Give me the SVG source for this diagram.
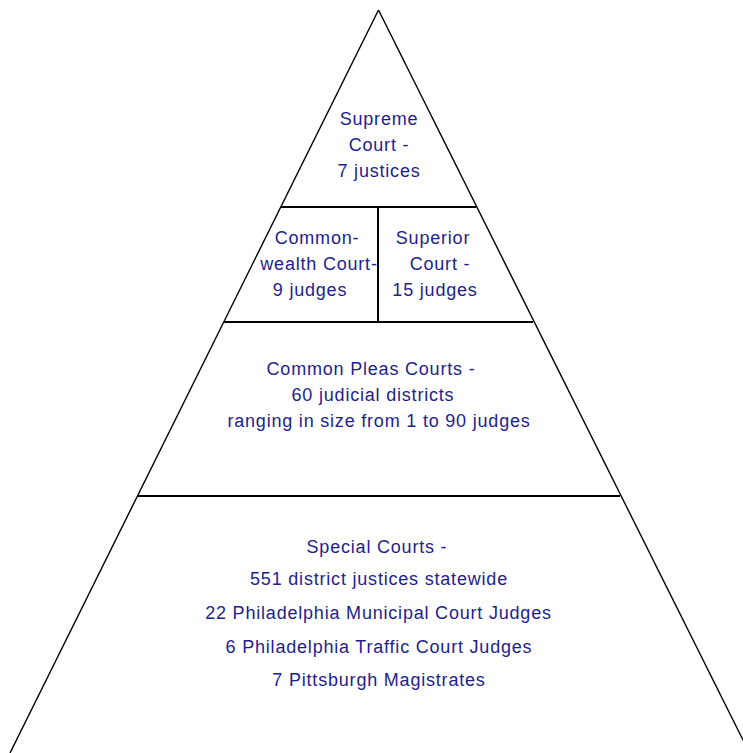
<svg xmlns="http://www.w3.org/2000/svg" width="743" height="753" viewBox="0 0 743 753">
<style>
.t{font-family:"Liberation Sans",Arial,sans-serif;font-size:18px;fill:#1e1e8e;text-anchor:middle;letter-spacing:0.8px}
.e{stroke:#000;fill:none;stroke-width:1.4}
.h{stroke:#000;fill:none;stroke-width:2}
</style>
<rect width="743" height="753" fill="#fff"/>
<g id="connectors">
<line class="e" x1="378.5" y1="10" x2="10" y2="753"/>
<line class="e" x1="378.5" y1="10" x2="749.5" y2="753"/>
<line class="h" x1="281" y1="207" x2="476" y2="207"/>
<line class="h" x1="224" y1="322" x2="533" y2="322"/>
<line class="h" x1="378" y1="207" x2="378" y2="322"/>
<line class="h" x1="138" y1="496" x2="620" y2="496"/>
</g>
<g id="supreme">
<text class="t" x="379" y="124.5">Supreme</text>
<text class="t" x="379" y="150.5">Court -</text>
<text class="t" x="379" y="176.5">7 justices</text>
</g>
<g id="commonwealth">
<text class="t" x="317" y="243.5">Common-</text>
<text class="t" x="319" y="269.5">wealth Court-</text>
<text class="t" x="310" y="295.5">9 judges</text>
</g>
<g id="superior">
<text class="t" x="433" y="243.5">Superior</text>
<text class="t" x="440" y="269.5">Court -</text>
<text class="t" x="435" y="295.5">15 judges</text>
</g>
<g id="commonpleas">
<text class="t" x="371" y="374.5">Common Pleas Courts -</text>
<text class="t" x="373" y="400.5">60 judicial districts</text>
<text class="t" x="379" y="426.5">ranging in size from 1 to 90 judges</text>
</g>
<g id="special">
<text class="t" x="377" y="552.5">Special Courts -</text>
<text class="t" x="379" y="584.5">551 district justices statewide</text>
<text class="t" x="378.5" y="618.5">22 Philadelphia Municipal Court Judges</text>
<text class="t" x="379" y="652.5">6 Philadelphia Traffic Court Judges</text>
<text class="t" x="379" y="685.5">7 Pittsburgh Magistrates</text>
</g>
</svg>
